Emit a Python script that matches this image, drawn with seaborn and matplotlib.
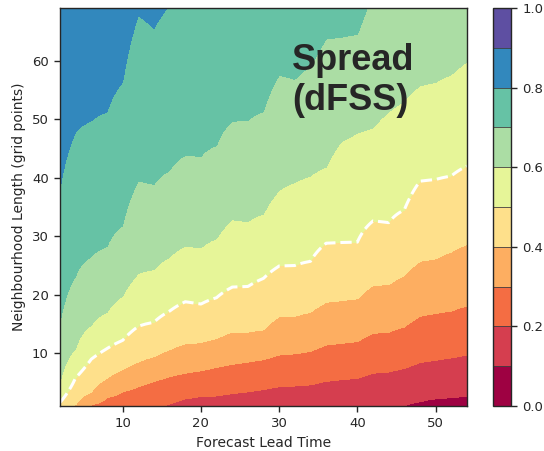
import matplotlib
matplotlib.use("Agg")
import matplotlib.pyplot as plt
from matplotlib.colors import ListedColormap
import numpy as np
import seaborn as sns

# Forecast lead times (columns) of the dFSS field
lead_times = [2, 4, 6, 8, 10, 12, 14, 16, 18, 20, 22, 24, 26, 28,
              30, 32, 34, 36, 38, 40, 42, 44, 46, 48, 50, 52, 54]

# Neighbourhood length (grid points) at which dFSS crosses each level,
# read off the contour boundaries (values outside 1..69 are off the chart)
cross_00 = [-14, -13, -12, -11, -10, -10, -9, -8, -7, -6.5, -6, -6, -5.5, -5.5,
            -5, -5, -4.5, -4.5, -4, -4, -3.5, -3, -2.5, -2, -1.5, -1.5, -1]
cross_01 = [-9, -8, -7, -6, -5.5, -5, -4, -3, -2, -1.5, -1.2, -1, -0.8, -0.6,
            -0.4, -0.2, 0.0, 0.1, 0.2, 0.3, 0.4, 0.7, 1.0, 1.7, 2.2, 2.4, 2.6]
cross_02 = [-5, -4, -3, -2.5, -2, -1, 0.5, 1.3, 2.2, 2.6, 2.7, 3.1, 3.4, 3.8,
            4.3, 4.4, 4.6, 5.2, 5.5, 5.7, 6.6, 6.8, 7.4, 8.4, 8.8, 9.2, 9.7]
cross_03 = [-2, -0.5, 1.2, 2.4, 3.4, 4.3, 5.2, 6.0, 6.6, 7.0, 7.6, 8.1, 8.5, 8.9,
            9.7, 9.9, 10.3, 11.4, 11.7, 12.0, 13.4, 13.6, 14.5, 16.3, 16.8, 17.2, 18.1]
cross_04 = [0.0, 1.2, 3.3, 5.7, 7.2, 8.5, 9.4, 10.6, 11.6, 11.8, 12.5, 13.6, 13.6, 14.0,
            16.2, 16.3, 17.0, 18.7, 19.0, 19.3, 21.6, 21.7, 23.3, 25.7, 26.1, 27.3, 28.6]
cross_05 = [1.6, 5.8, 9.0, 10.8, 12.2, 14.6, 15.3, 17.2, 18.8, 18.4, 19.5, 21.3, 21.4, 22.8,
            24.9, 25.0, 25.7, 28.8, 28.9, 29.0, 32.6, 32.3, 34.5, 39.4, 39.7, 40.3, 42.0]
cross_06 = [5.0, 10.8, 14.8, 17.0, 19.8, 23.6, 24.3, 26.4, 28.3, 28.0, 29.6, 32.8, 32.5, 33.8,
            37.8, 39.2, 40.3, 41.8, 46.2, 47.6, 48.5, 51.2, 53.1, 55.7, 56.3, 57.6, 59.8]
cross_07 = [15.2, 23.2, 26.5, 28.2, 31.8, 39.4, 38.8, 41.2, 43.8, 43.6, 45.5, 49.6, 49.8, 51.3,
            57.5, 56.8, 59.0, 63.7, 64.0, 64.5, 72, 73, 74, 75, 76, 77, 78]
cross_08 = [38.0, 47.8, 49.7, 51.2, 56.3, 67.7, 65.5, 69.5, 74, 75, 76, 77, 78, 79,
            80, 81, 82, 83, 84, 85, 86, 87, 88, 89, 90, 91, 92]
cross_09 = [80, 88, 90, 92, 96, 100, 100, 102, 104, 105, 106, 107, 108, 109,
            110, 111, 112, 113, 114, 115, 116, 117, 118, 119, 120, 121, 122]
cross_levels = [0.0, 0.1, 0.2, 0.3, 0.4, 0.5, 0.6, 0.7, 0.8, 0.9]

# 10-class ColorBrewer Spectral
spectral10 = ["#9e0142", "#d53e4f", "#f46d43", "#fdae61", "#fee08b",
              "#e6f598", "#abdda4", "#66c2a5", "#3288bd", "#5e4fa2"]

# rebuild the gridded field from the crossings
crossings = np.array([cross_00, cross_01, cross_02, cross_03, cross_04,
                      cross_05, cross_06, cross_07, cross_08, cross_09])
nbh = np.linspace(1, 69, 273)
dfss = np.empty((len(nbh), len(lead_times)))
for j in range(len(lead_times)):
    dfss[:, j] = np.interp(nbh, crossings[:, j], cross_levels)

sns.set_style("ticks")
plt.rcParams["font.family"] = ["DejaVu Sans"]

fig = plt.figure(figsize=(5.44, 4.51), dpi=100)
ax = fig.add_axes([0.1103, 0.0998, 0.748, 0.8825])
cax = fig.add_axes([0.9062, 0.0998, 0.034, 0.8825])

cmap = ListedColormap(spectral10)
levels = np.linspace(0, 1, 11)
cf = ax.contourf(lead_times, nbh, dfss, levels=levels, cmap=cmap)
ax.contour(lead_times, nbh, dfss, levels=[0.5], colors="white",
           linestyles="--", linewidths=2.2)

ax.set_xlim(2, 54)
ax.set_ylim(1, 69)
ax.set_xticks([10, 20, 30, 40, 50])
ax.set_yticks([10, 20, 30, 40, 50, 60])
ax.tick_params(labelsize=9.5, length=4.5, width=1, colors=".15")
for s in ax.spines.values():
    s.set_linewidth(1)
    s.set_color(".15")
ax.set_xlabel("Forecast Lead Time", fontsize=10, color=".15")
ax.set_ylabel("Neighbourhood Length (grid points)", fontsize=10, color=".15")

ax.text(0.570, 0.912, "Spread\n(dFSS)", transform=ax.transAxes,
        ha="left", va="top", fontsize=26, fontweight="bold",
        family=["Liberation Sans", "DejaVu Sans"], color="#262626")

cbar = fig.colorbar(cf, cax=cax, drawedges=True)
cbar.set_ticks([0.0, 0.2, 0.4, 0.6, 0.8, 1.0])
cbar.ax.tick_params(labelsize=9.5, length=4.5, width=1, colors=".15")
cbar.outline.set_linewidth(1)
cbar.outline.set_edgecolor(".15")
cbar.dividers.set_linewidth(0.6)
cbar.dividers.set_color(".25")

fig.savefig("out.png", dpi=100)
